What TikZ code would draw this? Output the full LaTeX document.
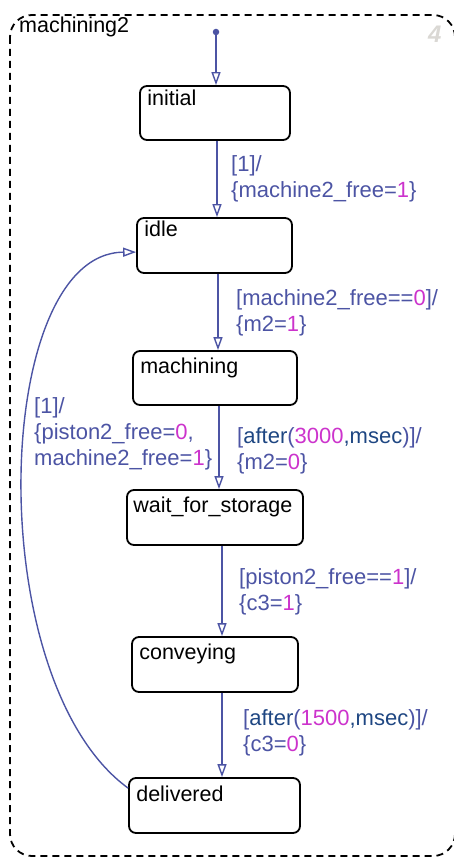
\documentclass[tikz,border=0pt]{standalone}
\usepackage{fontspec}
\setmainfont{Liberation Sans}
\usetikzlibrary{arrows.meta}
\definecolor{trblue}{RGB}{76,84,164}
\definecolor{numpink}{RGB}{204,51,204}
\definecolor{kwblue}{RGB}{30,70,130}
\definecolor{chartgrey}{RGB}{218,216,212}
\newcommand{\nv}[1]{\textcolor{numpink}{#1}}
\newcommand{\kw}[1]{\textcolor{kwblue}{#1}}
\tikzset{
  state/.style={draw, rounded corners=7pt, line width=1.8pt, inner sep=0pt},
  stname/.style={anchor=base west, inner sep=0pt, xshift=8pt, font=\fontsize{21.5}{25}\selectfont},
  trans/.style={draw=trblue, line width=1.4pt, -{Triangle[open, length=13pt, width=9pt]}},
  guard/.style={anchor=north west, inner sep=0pt, align=left, text=trblue, font=\fontsize{22}{26}\selectfont},
  dot/.style={circle, fill=trblue, inner sep=0pt, minimum size=6.5pt}
}
\begin{document}
\begin{tikzpicture}[x=1pt, y=-1pt]
  \useasboundingbox (0,0) rectangle (453,858);
  % chart frame
  \draw[line width=1.8pt, dash pattern=on 7pt off 5pt, rounded corners=22pt] (10,15) rectangle (455,856);
  \node[anchor=base west, inner sep=0pt, font=\fontsize{21.5}{25}\selectfont] (title) at (19,33) {machining2};
  \node[anchor=base west, inner sep=0pt, text=chartgrey, font=\fontsize{24}{28}\selectfont\bfseries\itshape] (chartno) at (428,43) {4};

  % states
  \node[state, minimum width=150pt, minimum height=54pt, label={[stname, yshift=-20pt]north west:initial}] (initial) at (215,113) {};
  \node[state, minimum width=155pt, minimum height=55pt, label={[stname, yshift=-19pt]north west:idle}] (idle) at (214.5,245.5) {};
  \node[state, minimum width=164pt, minimum height=54pt, label={[stname, yshift=-23pt]north west:machining}] (machining) at (215,378) {};
  \node[state, minimum width=176pt, minimum height=55pt, label={[stname, yshift=-23pt, xshift=-1pt]north west:wait\_for\_storage}] (wait) at (215,517.5) {};
  \node[state, minimum width=166pt, minimum height=55pt, label={[stname, yshift=-23pt]north west:conveying}] (conveying) at (215,664.5) {};
  \node[state, minimum width=171pt, minimum height=55pt, label={[stname, yshift=-24pt]north west:delivered}] (delivered) at (214.5,805.5) {};

  % transitions
  \node[dot] (start) at (216,32) {};
  \draw[trans] (start) -- ([xshift=1pt]initial.north);
  \draw[trans] ([xshift=2pt]initial.south) -- ([xshift=2.5pt]idle.north);
  \draw[trans] ([xshift=3.5pt]idle.south) -- ([xshift=3pt]machining.north);
  \draw[trans] ([xshift=4pt]machining.south) -- ([xshift=4pt]wait.north);
  \draw[trans] ([xshift=7pt]wait.south) -- ([xshift=7pt]conveying.north);
  \draw[trans] ([xshift=7pt]conveying.south) -- ([xshift=7.5pt]delivered.north);
  \draw[trans] ([yshift=-11pt]delivered.north west) .. controls (-20,680) and (-8,253) .. ([yshift=-35pt]idle.north west);

  % guards and actions
  \node[guard] (g1) at (231,155) {[1]/\\\{machine2\_free=\nv{1}\}};
  \node[guard] (g2) at (236,289) {[machine2\_free==\nv{0}]/\\\{m2=\nv{1}\}};
  \node[guard] (g3) at (237,427) {[\kw{after}(\nv{3000}\kw{,msec})]/\\\{m2=\nv{0}\}};
  \node[guard] (g4) at (34,397) {[1]/\\\{piston2\_free=\nv{0},\\machine2\_free=\nv{1}\}};
  \node[guard] (g5) at (239,568) {[piston2\_free==\nv{1}]/\\\{c3=\nv{1}\}};
  \node[guard] (g6) at (243,709) {[\kw{after}(\nv{1500}\kw{,msec})]/\\\{c3=\nv{0}\}};
\end{tikzpicture}
\end{document}
